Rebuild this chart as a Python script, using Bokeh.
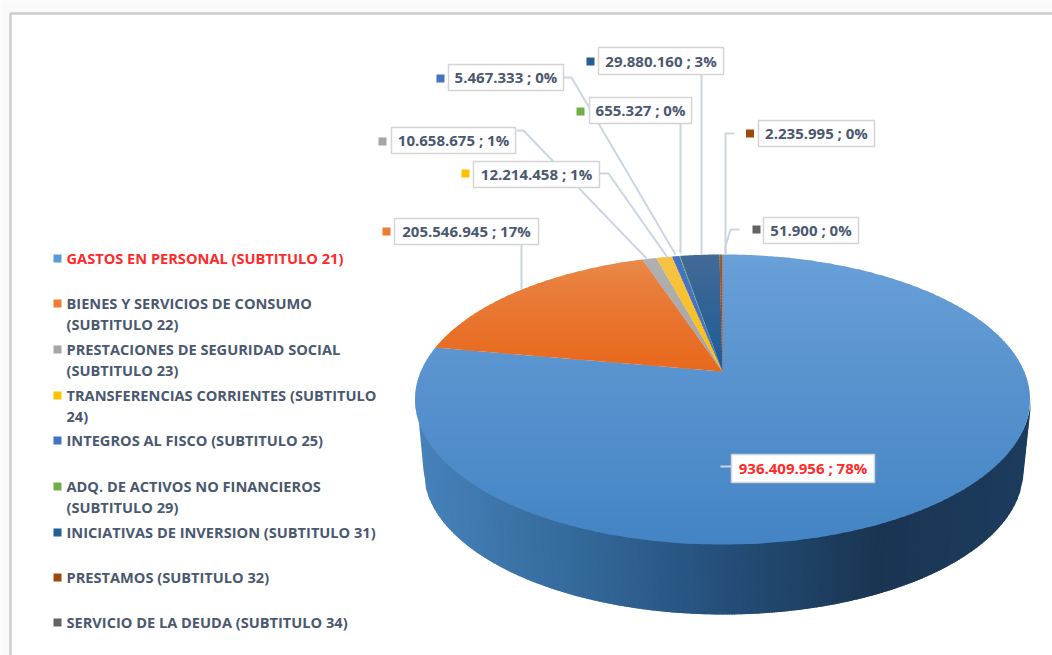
import numpy as np
from bokeh.plotting import figure
from bokeh.models import Range1d
from bokeh.core.properties import value
from bokeh.embed import file_html
from bokeh.resources import INLINE

# ---- data ----
categories = [
    "GASTOS EN PERSONAL (SUBTITULO 21)",
    "BIENES Y SERVICIOS DE CONSUMO|(SUBTITULO 22)",
    "PRESTACIONES DE SEGURIDAD SOCIAL|(SUBTITULO 23)",
    "TRANSFERENCIAS CORRIENTES (SUBTITULO|24)",
    "INTEGROS AL FISCO (SUBTITULO 25)",
    "ADQ. DE ACTIVOS NO FINANCIEROS|(SUBTITULO 29)",
    "INICIATIVAS DE INVERSION (SUBTITULO 31)",
    "PRESTAMOS (SUBTITULO 32)",
    "SERVICIO DE LA DEUDA (SUBTITULO 34)",
]
values = [936409956, 205546945, 10658675, 12214458, 5467333, 655327, 29880160, 2235995, 51900]
value_labels = ["936.409.956 ; 78%", "205.546.945 ; 17%", "10.658.675 ; 1%", "12.214.458 ; 1%",
                "5.467.333 ; 0%", "655.327 ; 0%", "29.880.160 ; 3%", "2.235.995 ; 0%", "51.900 ; 0%"]

# ---- styling / layout ----
colors = ["#5B9BD5", "#ED7D31", "#A5A5A5", "#FFC000", "#4472C4", "#70AD47", "#255E91", "#9E480E", "#636363"]
top_colors = ["#6AA0D8", "#E98A4C", "#B0B0B0", "#F5C24A", "#4472C4", "#70AD47", "#426A96", "#9E5A30", "#636363"]
bot_colors = ["#4484C4", "#E8681C", "#A5A5A5", "#FFC000", "#4472C4", "#70AD47", "#1C5A98", "#9E480E", "#636363"]
curve = [0.9, 0.7, 1, 1, 1, 1, 1, 1, 1]
FONT = "Open Sans"
TEXT = "#4A5870"
RED = "#FF2A2A"
LINE = "#CBD5E3"

legend_y = [258, 303, 349, 395, 440, 486, 532, 577, 622]
boxes = [(731, 454, 874, 482), (394, 218, 538, 244), (391, 127, 515, 153), (473, 161, 599, 187),
         (448, 64, 563, 90), (589, 97, 691, 123), (598, 47, 723, 74), (758, 120, 874, 146), (763, 217, 858, 243)]
markers = [None, (386, 231), (382, 141), (465, 173), (440, 78), (580, 111), (590, 61), (749.5, 133), (756, 229)]
leaders = [
    [(720, 466), (731, 466)],
    [(521, 244), (521, 289)],
    [(516, 130), (523, 130), (646, 258)],
    [(599, 173), (608, 173), (667, 257)],
    [(563, 77), (571, 77), (675, 254)],
    [(680, 123), (680, 253)],
    [(701, 74), (701, 254)],
    [(734, 133), (725, 133), (725, 254)],
    [(739, 229), (730, 229), (725, 246), (725, 254)],
]

# pie geometry: perspective projection of a disc
APEX_X, APEX_Y, A, B, K = 722.0, 371.0, 301.7, 139.6, 0.193
ELL_CX, ELL_CY, ELL_RX, ELL_RY = 723.5, 399.0, 307.5, 145.0
BOT_CX, BOT_CY, BOT_RX, BOT_RY = 723.0, 470.0, 300.0, 144.0


def project(theta):
    u, v = np.sin(theta), np.cos(theta)
    w = 1 + K * v
    return APEX_X + A * u / w, APEX_Y - B * v / w


def hex2rgb(h):
    return np.array([int(h[i:i + 2], 16) for i in (1, 3, 5)], float)


def mix(a, b, t):
    c = hex2rgb(a) * (1 - t) + hex2rgb(b) * t
    return "#%02X%02X%02X" % tuple(int(round(x)) for x in c)


def clip(poly, y0, keep_below):
    out = []
    n = len(poly)
    for i in range(n):
        p, q = poly[i], poly[(i + 1) % n]
        pin = p[1] >= y0 if keep_below else p[1] <= y0
        qin = q[1] >= y0 if keep_below else q[1] <= y0
        if pin:
            out.append(p)
        if pin != qin:
            t = (y0 - p[1]) / (q[1] - p[1])
            out.append((p[0] + t * (q[0] - p[0]), y0))
    return out


p = figure(width=1052, height=655, x_range=Range1d(0, 1052), y_range=Range1d(655, 0),
           output_backend="svg", toolbar_location=None, min_border=0,
           outline_line_color=None, x_axis_type=None, y_axis_type=None,
           background_fill_color="#FAFAFA", border_fill_color="#FAFAFA")
p.grid.visible = False

# panel and its border
p.quad(left=[10], right=[1070], top=[13], bottom=[680], fill_color="white",
       line_color="#CCCCCC", line_width=2.5)

# side of the cylinder
side_stops = [(-1.0, "#4682BA"), (-0.5, "#356A9C"), (0.0, "#244F7A"), (0.5, "#1A3552"), (1.0, "#1C3C5E")]
ts = np.linspace(-1, 1, 241)
xs_side, ys_side, cs_side = [], [], []
for t0, t1 in zip(ts[:-1], ts[1:]):
    t1x = min(t1 + 0.006, 1.0)
    a, b = np.sqrt(max(1 - t0 * t0, 0)), np.sqrt(max(1 - t1x * t1x, 0))
    xs_side.append([ELL_CX + ELL_RX * t0, ELL_CX + ELL_RX * t1x, BOT_CX + BOT_RX * t1x, BOT_CX + BOT_RX * t0])
    ys_side.append([ELL_CY + ELL_RY * a - 3, ELL_CY + ELL_RY * b - 3, BOT_CY + BOT_RY * b, BOT_CY + BOT_RY * a])
    tm = (t0 + t1) / 2
    for (s0, c0), (s1, c1) in zip(side_stops[:-1], side_stops[1:]):
        if s0 <= tm <= s1:
            cs_side.append(mix(c0, c1, (tm - s0) / (s1 - s0)))
p.patches(xs_side, ys_side, fill_color=cs_side, line_color=None)

# top face: each slice painted in thin horizontal bands for the gradient
total = sum(values)
edges = np.cumsum([0] + values) / total * 2 * np.pi
xs_top, ys_top, cs_top = [], [], []
for i in range(len(values)):
    n = max(2, int((edges[i + 1] - edges[i]) / np.radians(0.5)))
    th = np.linspace(edges[i], edges[i + 1], n)
    rx, ry = project(th)
    poly = [(APEX_X, APEX_Y)] + list(zip(rx.tolist(), ry.tolist()))
    y_min, y_max = min(q[1] for q in poly), max(q[1] for q in poly)
    y = y_min
    step = 3.0
    while y < y_max:
        band = clip(clip(poly, y, True), y + step + 1.0, False)
        if len(band) >= 3:
            xs_top.append([q[0] for q in band])
            ys_top.append([q[1] for q in band])
            t = (y - y_min) / max(y_max - y_min, 1)
            cs_top.append(mix(top_colors[i], bot_colors[i], t ** curve[i]))
        y += step
p.patches(xs_top, ys_top, fill_color=cs_top, line_color=None)

# leader lines
p.multi_line([[q[0] for q in l] for l in leaders], [[q[1] for q in l] for l in leaders],
             line_color=LINE, line_width=2)

# value label boxes, texts and markers
p.quad(left=[b[0] for b in boxes], right=[b[2] for b in boxes],
       top=[b[1] for b in boxes], bottom=[b[3] for b in boxes],
       fill_color="white", line_color="#D4D4D4", line_width=1.5)
p.text([(b[0] + b[2]) / 2 for b in boxes], [(b[1] + b[3]) / 2 - 0.5 for b in boxes], text=value_labels,
       text_font=value(FONT), text_font_size="15px", text_font_style="bold",
       text_color=[RED] + [TEXT] * 8, text_align="center", text_baseline="middle")
mk = [(m, c) for m, c in zip(markers, colors) if m]
p.quad(left=[m[0] - 4 for m, _ in mk], right=[m[0] + 4 for m, _ in mk],
       top=[m[1] - 4 for m, _ in mk], bottom=[m[1] + 4 for m, _ in mk],
       fill_color=[c for _, c in mk], line_color=None)

# legend
p.quad(left=[53] * 9, right=[61] * 9, top=[y - 4 for y in legend_y], bottom=[y + 4 for y in legend_y],
       fill_color=colors, line_color=None)
lx, ly, lt, lc = [], [], [], []
for i, (cat, y) in enumerate(zip(categories, legend_y)):
    for j, part in enumerate(cat.split("|")):
        lx.append(66)
        ly.append(y + j * 21 - 0.5)
        lt.append(part)
        lc.append(RED if i == 0 else TEXT)
p.text(lx, ly, text=lt, text_font=value(FONT), text_font_size="14.6px", text_font_style="bold",
       text_color=lc, text_align="left", text_baseline="middle")

open("out.html", "w").write(file_html(p, INLINE))
